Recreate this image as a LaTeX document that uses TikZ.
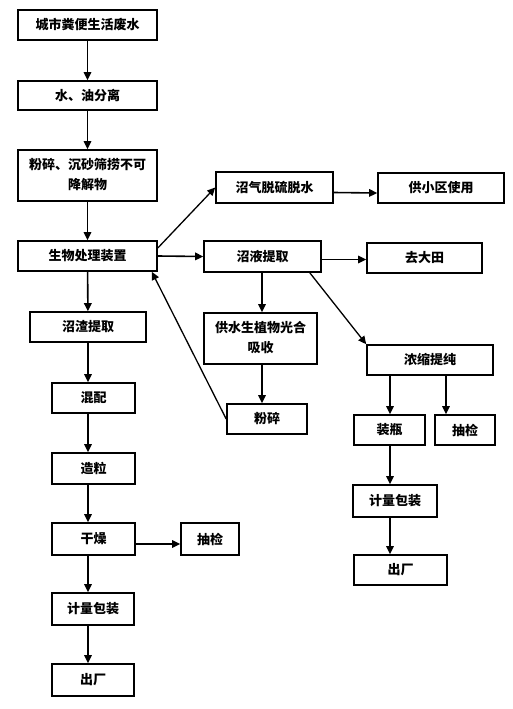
\documentclass[tikz,border=0pt]{standalone}
\usepackage{fontspec}
\newfontfamily\cjk{Noto Sans CJK SC}
\usepackage{tikz}
\usetikzlibrary{arrows.meta,calc}
\newcommand{\twolines}[2]{\begin{tabular}{@{}c@{}}#1\\#2\end{tabular}}
\tikzset{
  >={Triangle[length=8pt,width=7.5pt]},
  box/.style={draw=black,line width=1.6pt,fill=white,inner sep=0pt,
              font=\cjk\bfseries\fontsize{13}{20}\selectfont},
  flow/.style={->,line width=1.6pt,draw=black},
  slant/.style={->,line width=1.3pt,draw=black},
}
\begin{document}
\begin{tikzpicture}[x=1pt,y=-1pt]
  \useasboundingbox (0,0) rectangle (512,709);
  % main column
  \node[box,minimum width=139pt,minimum height=30pt] (src) at (87.5,25) {城市粪便生活废水};
  \node[box,minimum width=139pt,minimum height=29pt] (sep) at (87.5,95.5) {水、油分离};
  \node[box,minimum width=139pt,minimum height=51pt] (crush) at (87.5,175.5) {\twolines{粉碎、沉砂筛捞不可}{降解物}};
  \node[box,minimum width=139pt,minimum height=30pt] (bio) at (87.5,256) {生物处理装置};
  % solid branch
  \node[box,minimum width=116pt,minimum height=30pt] (slag) at (88,327) {沼渣提取};
  \node[box,minimum width=83pt,minimum height=30pt] (mix) at (93.5,398) {混配};
  \node[box,minimum width=83pt,minimum height=31pt] (gran) at (93.5,468.5) {造粒};
  \node[box,minimum width=83pt,minimum height=32pt] (dry) at (93.5,539) {干燥};
  \node[box,minimum width=58pt,minimum height=32pt] (chkL) at (210,539) {抽检};
  \node[box,minimum width=82pt,minimum height=32pt] (packL) at (93,609) {计量包装};
  \node[box,minimum width=82pt,minimum height=32pt] (outL) at (93,680) {出厂};
  % gas and liquid branches
  \node[box,minimum width=117pt,minimum height=31pt] (gas) at (274.5,187.5) {沼气脱硫脱水};
  \node[box,minimum width=126pt,minimum height=30pt] (home) at (441,188) {供小区使用};
  \node[box,minimum width=117pt,minimum height=31pt] (liq) at (262.5,256.5) {沼液提取};
  \node[box,minimum width=115pt,minimum height=30pt] (field) at (424.5,258) {去大田};
  \node[box,minimum width=113pt,minimum height=51pt] (plant) at (260.5,338.5) {\twolines{供水生植物光合}{吸收}};
  \node[box,minimum width=80pt,minimum height=30pt] (grind) at (267,419) {粉碎};
  \node[box,minimum width=126pt,minimum height=30pt] (conc) at (430,360) {浓缩提纯};
  \node[box,minimum width=71pt,minimum height=30pt] (bottle) at (389.5,430) {装瓶};
  \node[box,minimum width=60pt,minimum height=30pt] (chkR) at (465,430) {抽检};
  \node[box,minimum width=84pt,minimum height=32pt] (packR) at (395,501) {计量包装};
  \node[box,minimum width=93pt,minimum height=30pt] (outR) at (400.5,570) {出厂};
  \coordinate (lx) at (88,0);
  \coordinate (mx) at (262,0);
  \coordinate (rx) at (390,0);
  % connectors
  \draw[flow] (src) -- (sep);
  \draw[flow] (sep) -- (crush);
  \draw[flow] (crush) -- (bio);
  \draw[flow] (bio) -- (slag);
  \draw[flow] (slag.south -| lx) -- (mix.north -| lx);
  \draw[flow] (mix.south -| lx) -- (gran.north -| lx);
  \draw[flow] (gran.south -| lx) -- (dry.north -| lx);
  \draw[flow] ([yshift=-5pt]dry.east) -- ([yshift=-5pt]chkL.west);
  \draw[flow] (dry.south -| lx) -- (packL.north -| lx);
  \draw[flow] (packL.south -| lx) -- (outL.north -| lx);
  \draw[slant] ([yshift=8pt]bio.east) -- (gas.west);
  \draw[flow] (bio.east) -- (liq.west);
  \draw[flow] ([yshift=-5pt]gas.east) -- ([yshift=-5pt]home.west);
  \draw[flow] ([yshift=-3pt]liq.east) -- ([yshift=-3pt]liq.east -| field.west);
  \draw[flow] (liq.south -| mx) -- (plant.north -| mx);
  \draw[flow] (plant.south -| mx) -- (grind.north -| mx);
  \draw[slant] (grind.west) -- ([xshift=-6pt]bio.south east);
  \draw[slant] ([xshift=-12pt]liq.south east) -- (conc.north west);
  \draw[flow] (conc.south -| rx) -- (bottle.north -| rx);
  \draw[flow] ([xshift=16pt]conc.south) -- ([xshift=16pt]conc.south |- chkR.north);
  \draw[flow] (bottle.south -| rx) -- (packR.north -| rx);
  \draw[flow] (packR.south -| rx) -- (outR.north -| rx);
\end{tikzpicture}
\end{document}
